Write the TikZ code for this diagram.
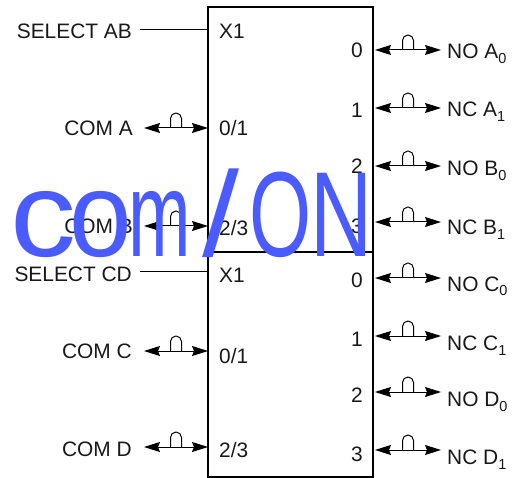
\documentclass[tikz,border=0pt]{standalone}
\usepackage{fontspec}
\usepackage{graphicx}
\usetikzlibrary{arrows.meta}
\setmainfont{Liberation Sans}
\definecolor{wm}{HTML}{4A5CFF}
\tikzset{
  lab/.style={inner sep=0pt,font=\fontsize{20.9}{23}\selectfont,text=black!90},
  sig/.style={line width=1pt,draw=black},
  boxline/.style={line width=2pt,draw=black},
  tip/.style={{Stealth[length=16pt,width=10pt,inset=2pt]}-{Stealth[length=16pt,width=10pt,inset=2pt]}}
}
\newcommand{\bump}[2]{\draw[sig] (#1-5.5,#2) -- (#1-5.5,#2-9.5) arc[start angle=180,end angle=360,radius=5.5] -- (#1+5.5,#2);}
\newcommand{\sbs}[1]{\raisebox{-5pt}{\fontsize{14.5}{16}\selectfont #1}}
\newcommand{\wl}[3]{\kern#1pt\scalebox{#2}[1]{#3}}
\newcommand{\rowL}[7]{%
  \node[lab,anchor=east] (#1) at (#7,#3) {#2};
  \node[lab,anchor=west] (#1p) at (219,#6) {#5};
  \coordinate (#1a) at (144,#4);
  \coordinate (#1b) at (208,#4);
  \draw[sig,tip] (#1a) -- (#1b);
  \bump{176}{#4}}
\newcommand{\rowR}[6]{%
  \node[lab,anchor=center] (#1p) at (357,#4) {#3};
  \node[lab,anchor=base west] (#1) at (447,#6+7) {#2};
  \coordinate (#1a) at (375,#5);
  \coordinate (#1b) at (441,#5);
  \draw[sig,tip] (#1a) -- (#1b);
  \bump{408}{#5}}
\begin{document}
\begin{tikzpicture}[x=1pt,y=-1pt]
\useasboundingbox (0,0) rectangle (522,478);
\coordinate (tl) at (208,7);
\coordinate (br) at (373,477);
\coordinate (ml) at (208,252);
\coordinate (mr) at (373,252);
\draw[boxline] (tl) rectangle (br);
\draw[boxline] (ml) -- (mr);
\node[lab,anchor=east] (selab) at (132,31) {SELECT AB};
\node[lab,anchor=west] (xab) at (219,31) {X1};
\coordinate (selabr) at (140,30);
\coordinate (selabe) at (208,30);
\draw[sig] (selabr) -- (selabe);
\node[lab,anchor=east] (selcd) at (132,274) {SELECT CD};
\node[lab,anchor=west] (xcd) at (219,275) {X1};
\coordinate (selcdr) at (140,272);
\coordinate (selcde) at (208,272);
\draw[sig] (selcdr) -- (selcde);
\rowL{coma}{COM A}{128}{128}{0/1}{128}{133}
\rowL{comb}{COM B}{226}{226}{2/3}{228}{133}
\rowL{comc}{COM C}{351}{351}{0/1}{356}{132}
\rowL{comd}{COM D}{449}{447}{2/3}{450}{132}
\rowR{noa}{NO A\sbs{0}}{0}{50}{50}{52}
\rowR{nca}{NC A\sbs{1}}{1}{110}{108}{110}
\rowR{nob}{NO B\sbs{0}}{2}{166}{166}{169}
\rowR{ncb}{NC B\sbs{1}}{3}{226}{222}{228}
\rowR{noc}{NO C\sbs{0}}{0}{280}{278}{284}
\rowR{ncc}{NC C\sbs{1}}{1}{339}{336}{343}
\rowR{nod}{NO D\sbs{0}}{2}{395}{392}{399}
\rowR{ncd}{NC D\sbs{1}}{3}{454}{450}{457}
\node[inner sep=0pt,anchor=base west,text=wm,font=\fontsize{121}{125}\selectfont] (wmk) at (10,256.5)
  {\wl{0}{1.09}{c}\wl{-6.5}{.93}{o}\wl{-3.7}{.62}{m}\wl{11.5}{1.1}{/}\wl{10}{.66}{O}\wl{-1.4}{.71}{N}};
\end{tikzpicture}
\end{document}
